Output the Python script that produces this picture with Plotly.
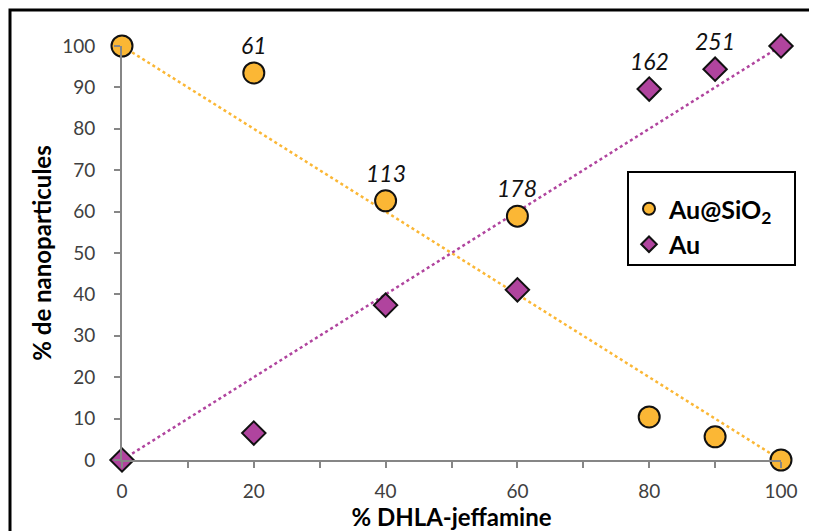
import plotly.graph_objects as go

# Data
x_dhla = [0, 20, 40, 60, 80, 90, 100]
au_sio2 = [100, 93.5, 62.6, 58.9, 10.4, 5.6, 0]
au = [0, 6.5, 37.4, 41.1, 89.6, 94.4, 100]
trend_x = [0, 100]
trend_sio2 = [100, 0]
trend_au = [0, 100]
label_x = [20, 40, 60, 80, 90]
label_y = [93.5, 62.6, 58.9, 89.6, 94.4]
label_text = ["61", "113", "178", "162", "251"]
x_tickvals = [0, 20, 40, 60, 80, 100]
y_tickvals = [0, 10, 20, 30, 40, 50, 60, 70, 80, 90, 100]

ORANGE = "#FBB735"
PURPLE = "#B0449E"
FONT = "Lato"

OFF = 8  # page body margin offset
W, H = 817, 531
# target plot area in screenshot pixels: x 122..781, y 46..460
ML = 122 - OFF
MT = 46 - OFF
MR = W - (781 - OFF)
MB = H - (460 - OFF)
PW, PH = W - ML - MR, H - MT - MB

def px2paper_x(px):
    return (px - OFF - ML) / PW

def px2paper_y(py):
    return (H - MB - (py - OFF)) / PH

fig = go.Figure()
fig.add_trace(go.Scatter(x=trend_x, y=trend_sio2, mode="lines",
                         line=dict(color=ORANGE, width=2.5, dash="dot"),
                         showlegend=False, hoverinfo="skip", cliponaxis=False))
fig.add_trace(go.Scatter(x=trend_x, y=trend_au, mode="lines",
                         line=dict(color=PURPLE, width=2.5, dash="dot"),
                         showlegend=False, hoverinfo="skip", cliponaxis=False))
fig.add_trace(go.Scatter(x=x_dhla, y=au_sio2, mode="markers", name="Au@SiO<sub>2</sub>",
                         marker=dict(symbol="circle", size=21, color=ORANGE,
                                     line=dict(color="#111111", width=2)),
                         cliponaxis=False))
fig.add_trace(go.Scatter(x=x_dhla, y=au, mode="markers", name="Au",
                         marker=dict(symbol="diamond", size=18, color=PURPLE,
                                     line=dict(color="#111111", width=2)),
                         cliponaxis=False))

for lx, ly, lt in zip(label_x, label_y, label_text):
    fig.add_annotation(x=lx, y=ly, text=f"<i>{lt}</i>", showarrow=False,
                       yshift=28, font=dict(family=FONT, size=23, color="#111111"))

# outer chart border
fig.add_shape(type="rect", xref="paper", yref="paper",
              x0=px2paper_x(10), x1=px2paper_x(840),
              y0=px2paper_y(550), y1=px2paper_y(10),
              line=dict(color="black", width=3), fillcolor="rgba(0,0,0,0)", layer="below")
# legend box
fig.add_shape(type="rect", xref="paper", yref="paper",
              x0=px2paper_x(628), x1=px2paper_x(795),
              y0=px2paper_y(265), y1=px2paper_y(172),
              line=dict(color="black", width=2), fillcolor="white", layer="below")

axis_common = dict(
    range=[0, 100], automargin=False,
    showgrid=False, zeroline=False, showline=True, linecolor="#868686", linewidth=2,
    ticks="outside", ticklen=6, tickwidth=2, tickcolor="#868686",
    tickfont=dict(family=FONT, size=19, color="#404040"),
)

fig.update_layout(
    width=W, height=H,
    margin=dict(l=ML, r=MR, t=MT, b=MB, autoexpand=False),
    paper_bgcolor="white", plot_bgcolor="white",
    font=dict(family=FONT, color="#404040"),
    legend=dict(x=px2paper_x(629), y=px2paper_y(186), xanchor="left", yanchor="top",
                borderwidth=0, bgcolor="rgba(0,0,0,0)",
                font=dict(family=FONT, size=25, color="black", weight="bold"),
                itemsizing="constant", tracegroupgap=0, itemwidth=30),
    xaxis=dict(axis_common, tickvals=x_tickvals, ticklabelstandoff=7,
               minor=dict(ticks="outside", ticklen=6, tickwidth=2, tickcolor="#868686", dtick=10, tick0=0, showgrid=False),
               title=dict(text="% DHLA-jeffamine", standoff=8,
                          font=dict(family=FONT, size=24, color="black", weight="bold"))),
    yaxis=dict(axis_common, tickvals=y_tickvals, ticklabelstandoff=15,
               title=dict(text="% de nanoparticules", standoff=4,
                          font=dict(family=FONT, size=24, color="black", weight="bold"))),
)

fig.write_html("out.html")
